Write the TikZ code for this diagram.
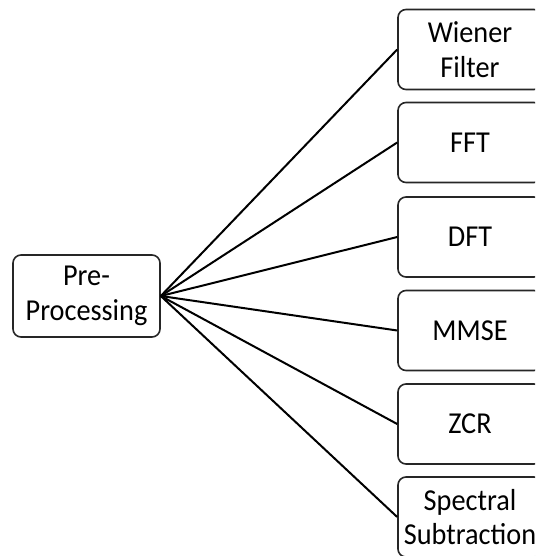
\documentclass[tikz,border=0pt]{standalone}
\usepackage{fontspec}
\setmainfont{Carlito}[FakeStretch=0.93]
\tikzset{
	boxstyle/.style={rectangle,rounded corners=4pt,draw=black!85,line width=0.8pt,minimum width=72pt,minimum height=40pt,align=center,inner sep=0pt,font=\fontsize{15.2pt}{17.4pt}\selectfont},
	linkstyle/.style={draw=black,line width=1pt}
}
\begin{document}
\begin{tikzpicture}[x=0.5pt,y=-0.5pt]
		\useasboundingbox (0,0) rectangle (535,556);
		\clip (0,0) rectangle (535,556);
		\node[boxstyle,minimum width=73.5pt,minimum height=41pt] (pre) at (86.5,296) {Pre-\\Processing};
		\node[boxstyle] (wiener) at (470,49.5) {Wiener\\Filter};
		\node[boxstyle] (fft) at (470,142.5) {FFT};
		\node[boxstyle] (dft) at (470,237) {DFT};
		\node[boxstyle] (mmse) at (470,330.5) {MMSE};
		\node[boxstyle] (zcr) at (470,424) {ZCR};
		\node[boxstyle] (spectral) at (470,517) {Spectral\\Subtraction};
		\draw[linkstyle] (pre.east)--(wiener.west);
		\draw[linkstyle] (pre.east)--(fft.west);
		\draw[linkstyle] (pre.east)--(dft.west);
		\draw[linkstyle] (pre.east)--(mmse.west);
		\draw[linkstyle] (pre.east)--(zcr.west);
		\draw[linkstyle] (pre.east)--(spectral.west);
\end{tikzpicture}
\end{document}
